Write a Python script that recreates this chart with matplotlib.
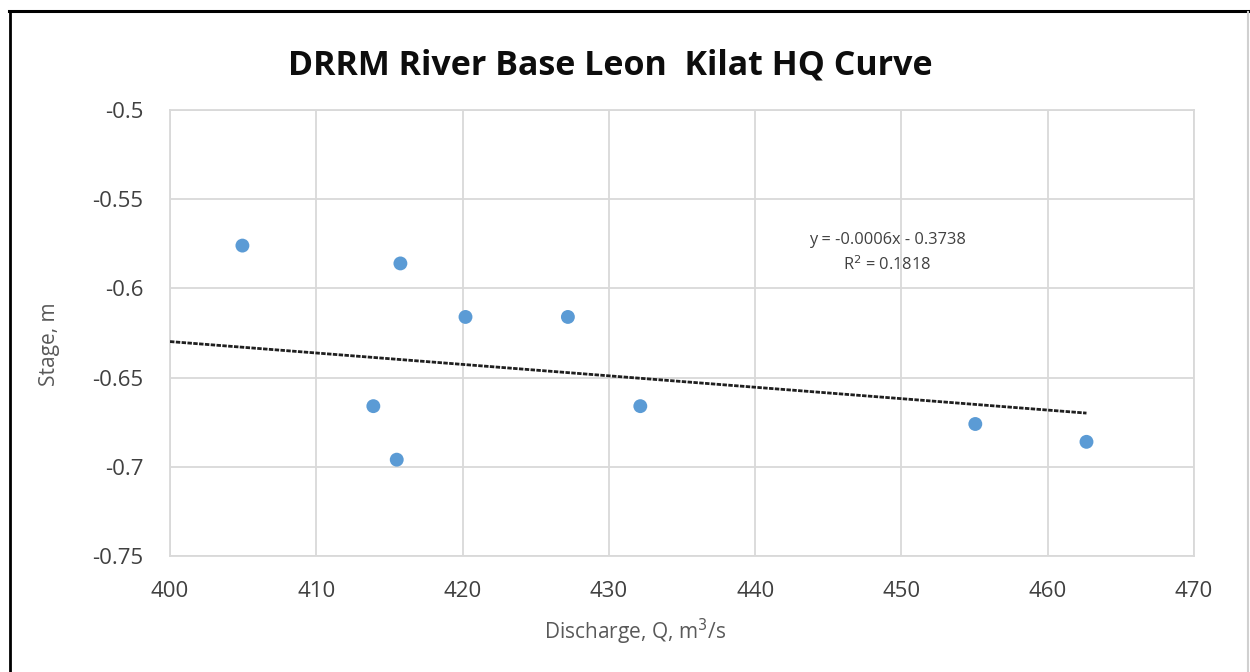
import numpy as np
import matplotlib
matplotlib.use("Agg")
import matplotlib.pyplot as plt
from matplotlib.lines import Line2D

# Discharge (m^3/s) and stage (m) observations
discharge = [404.95, 415.75, 420.2, 427.2, 413.9, 415.5, 432.15, 455.05, 462.65]
stage = [-0.576, -0.586, -0.616, -0.616, -0.666, -0.696, -0.666, -0.676, -0.686]

# Linear trend line coefficients
trend_slope = -0.00064
trend_intercept = -0.3738
r2_value = 0.1818

x_ticks = [400, 410, 420, 430, 440, 450, 460, 470]
y_ticks = [-0.5, -0.55, -0.6, -0.65, -0.7, -0.75]
y_tick_labels = ["-0.5", "-0.55", "-0.6", "-0.65", "-0.7", "-0.75"]

title = "DRRM River Base Leon  Kilat HQ Curve"

plt.rcParams["font.family"] = ["Open Sans", "DejaVu Sans"]

fig = plt.figure(figsize=(12.5, 6.72), dpi=100)
ax = fig.add_axes([0.136, 0.1726, 0.8192, 0.6637])

tx = np.array([400, max(discharge)])
ax.plot(tx, trend_slope * tx + trend_intercept, color="#1f1f1f", lw=2.0,
        linestyle=(0, (1.6, 0.5)), zorder=3)

ax.scatter(discharge, stage, s=100, color="#5b9bd5", edgecolors="none", zorder=4)

ax.set_xlim(400, 470)
ax.set_ylim(-0.75, -0.5)
ax.set_xticks(x_ticks)
ax.set_yticks(y_ticks)
ax.set_yticklabels(y_tick_labels)
ax.grid(True, color="#d9d9d9", lw=1.3)
ax.set_axisbelow(True)
for sp in ax.spines.values():
    sp.set_color("#d9d9d9")
    sp.set_linewidth(1.3)
ax.tick_params(axis="x", length=0, labelsize=16, labelcolor="#404040", pad=18)
ax.tick_params(axis="y", length=0, labelsize=16, labelcolor="#404040", pad=19)

W, H = 1250, 672
fig.text(635 / W, 1 - 632 / H, "Discharge, Q, m$^3$/s", ha="center", va="center",
         fontsize=15, color="#595959")
fig.text(49 / W, 1 - 344 / H, "Stage, m", ha="center", va="center",
         rotation=90, fontsize=15, color="#595959")

fig.text(610 / W, 1 - 66 / H, title, ha="center", va="center", fontsize=24.5,
         fontweight="bold", color="#0d0d0d")

eq_text = f"y = {trend_slope:.4f}x - {abs(trend_intercept):.4f}\nR$^2$ = {r2_value:.4f}"
fig.text(887 / W, 1 - 253 / H, eq_text, ha="center", va="center",
         fontsize=11.8, color="#404040", linespacing=1.45)

# Frame around the figure
fig.add_artist(Line2D([9 / W, 1248 / W], [1 - 11 / H, 1 - 11 / H],
                      transform=fig.transFigure, color="black", lw=2.2))
fig.add_artist(Line2D([10 / W, 10 / W], [0, 1 - 11 / H],
                      transform=fig.transFigure, color="black", lw=2.0))
fig.add_artist(Line2D([1248 / W, 1248 / W], [0, 1 - 12 / H],
                      transform=fig.transFigure, color="#d0d0d0", lw=1.5))

fig.savefig("out.png", dpi=100)
